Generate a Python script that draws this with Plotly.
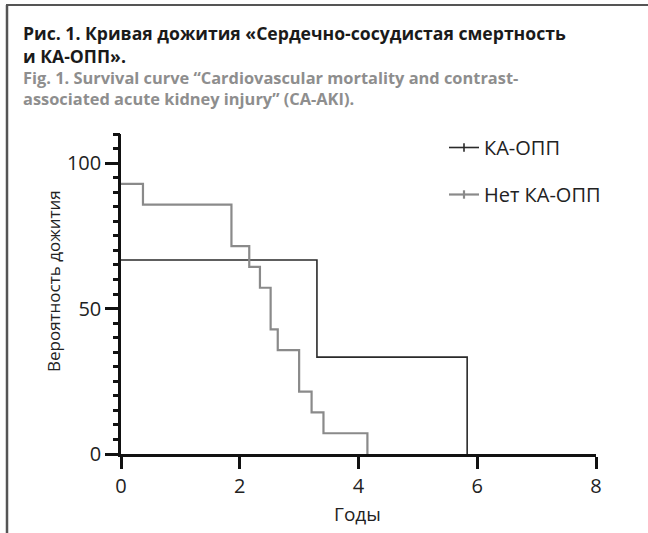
import plotly.graph_objects as go

# Kaplan–Meier survival curves (years, % surviving)
ka_years = [0, 3.3, 5.83]
ka_surv = [66.7, 33.3, 0]

no_ka_years = [0, 0.37, 1.86, 2.16, 2.34, 2.52, 2.64, 3.0, 3.21, 3.41, 4.15]
no_ka_surv = [92.86, 85.71, 71.43, 64.29, 57.14, 42.86, 35.71, 21.43, 14.29, 7.14, 0]

series_names = ["КА-ОПП", "Нет КА-ОПП"]

W, H = 648, 533
ML, MR, MT, MB = 121, 52, 134, 79
PW, PH = W - ML - MR, H - MT - MB


def px(x):
    return (x - ML) / PW


def py(y):
    return (H - MB - y) / PH


FONT = "Open Sans"
colors = ["#2a2a2a", "#8a8a8a"]
widths = [1.6, 2.2]
AX = "#111"

fig = go.Figure()
for xs, ys, c, w in zip([ka_years, no_ka_years], [ka_surv, no_ka_surv], colors, widths):
    fig.add_trace(go.Scatter(x=xs, y=ys, mode="lines", line=dict(color=c, width=w, shape="hv"),
                             showlegend=False, cliponaxis=False, hoverinfo="skip"))
for name, c, w in zip(series_names, colors, widths):
    fig.add_trace(go.Scatter(x=[None], y=[None], mode="lines+markers", name=name,
                             legendgroup=name,
                             line=dict(color=c, width=w),
                             marker=dict(symbol="line-ns", size=6,
                                         line=dict(color=c, width=w))))
# helper trace carrying the minor-tick axis
fig.add_trace(go.Scatter(x=[None], y=[None], yaxis="y2", showlegend=False, hoverinfo="skip"))

title_ru = "Рис. 1. Кривая дожития «Сердечно-сосудистая смертность<br>и КА-ОПП»."
title_en = ("Fig. 1. Survival curve “Cardiovascular mortality and contrast-<br>"
            "associated acute kidney injury” (CA-AKI).")

annotations = [
    dict(text=title_ru, xref="paper", yref="paper", x=px(21), y=py(19), xanchor="left",
         yanchor="top", align="left", showarrow=False,
         font=dict(family=FONT, size=17.6, color="#1a1a1a", weight="bold")),
    dict(text=title_en, xref="paper", yref="paper", x=px(21), y=py(64), xanchor="left",
         yanchor="top", align="left", showarrow=False,
         font=dict(family=FONT, size=16.4, color="#8e8e8e", weight="bold")),
    dict(text="Вероятность дожития", xref="paper", yref="paper", x=px(53), y=py(281),
         xanchor="center", yanchor="middle", textangle=-90, showarrow=False,
         font=dict(family=FONT, size=17, color="#222")),
    dict(text="Годы", xref="paper", yref="paper", x=px(357), y=py(514),
         xanchor="center", yanchor="middle", showarrow=False,
         font=dict(family=FONT, size=19, color="#222")),
]

fig.update_layout(
    width=W, height=H,
    margin=dict(l=ML, r=MR, t=MT, b=MB),
    paper_bgcolor="white", plot_bgcolor="white",
    font=dict(family=FONT, color="#222"),
    showlegend=True,
    legend=dict(x=px(444), y=py(128), xanchor="left", yanchor="top",
                font=dict(size=20, color="#222"), bgcolor="rgba(0,0,0,0)",
                tracegroupgap=18, traceorder="grouped", itemwidth=30),
    xaxis=dict(range=[0, 8], tick0=0, dtick=2, showline=True, linecolor=AX, linewidth=2.5,
               ticks="outside", ticklen=12, tickwidth=2.5, tickcolor=AX,
               tickfont=dict(size=20, color="#222"), showgrid=False, zeroline=False),
    yaxis=dict(range=[0, 110], tick0=0, dtick=50, showline=True, linecolor=AX, linewidth=2.5,
               ticks="outside", ticklen=13, tickwidth=2.5, tickcolor=AX,
               tickfont=dict(size=20, color="#222"), showgrid=False, zeroline=False),
    yaxis2=dict(range=[0, 110], tick0=0, dtick=5, overlaying="y", side="left", anchor="x",
                showline=False, ticks="outside", ticklen=7, tickwidth=2.5, tickcolor=AX,
                showticklabels=False, showgrid=False, zeroline=False),
    annotations=annotations,
    shapes=[
        dict(type="line", xref="paper", yref="paper", x0=px(6), x1=px(W), y0=py(5), y1=py(5),
             line=dict(color="#555", width=2)),
        dict(type="line", xref="paper", yref="paper", x0=px(7), x1=px(7), y0=py(5), y1=py(H),
             line=dict(color="#555", width=2.5)),
    ],
)

fig.write_html("out.html")
